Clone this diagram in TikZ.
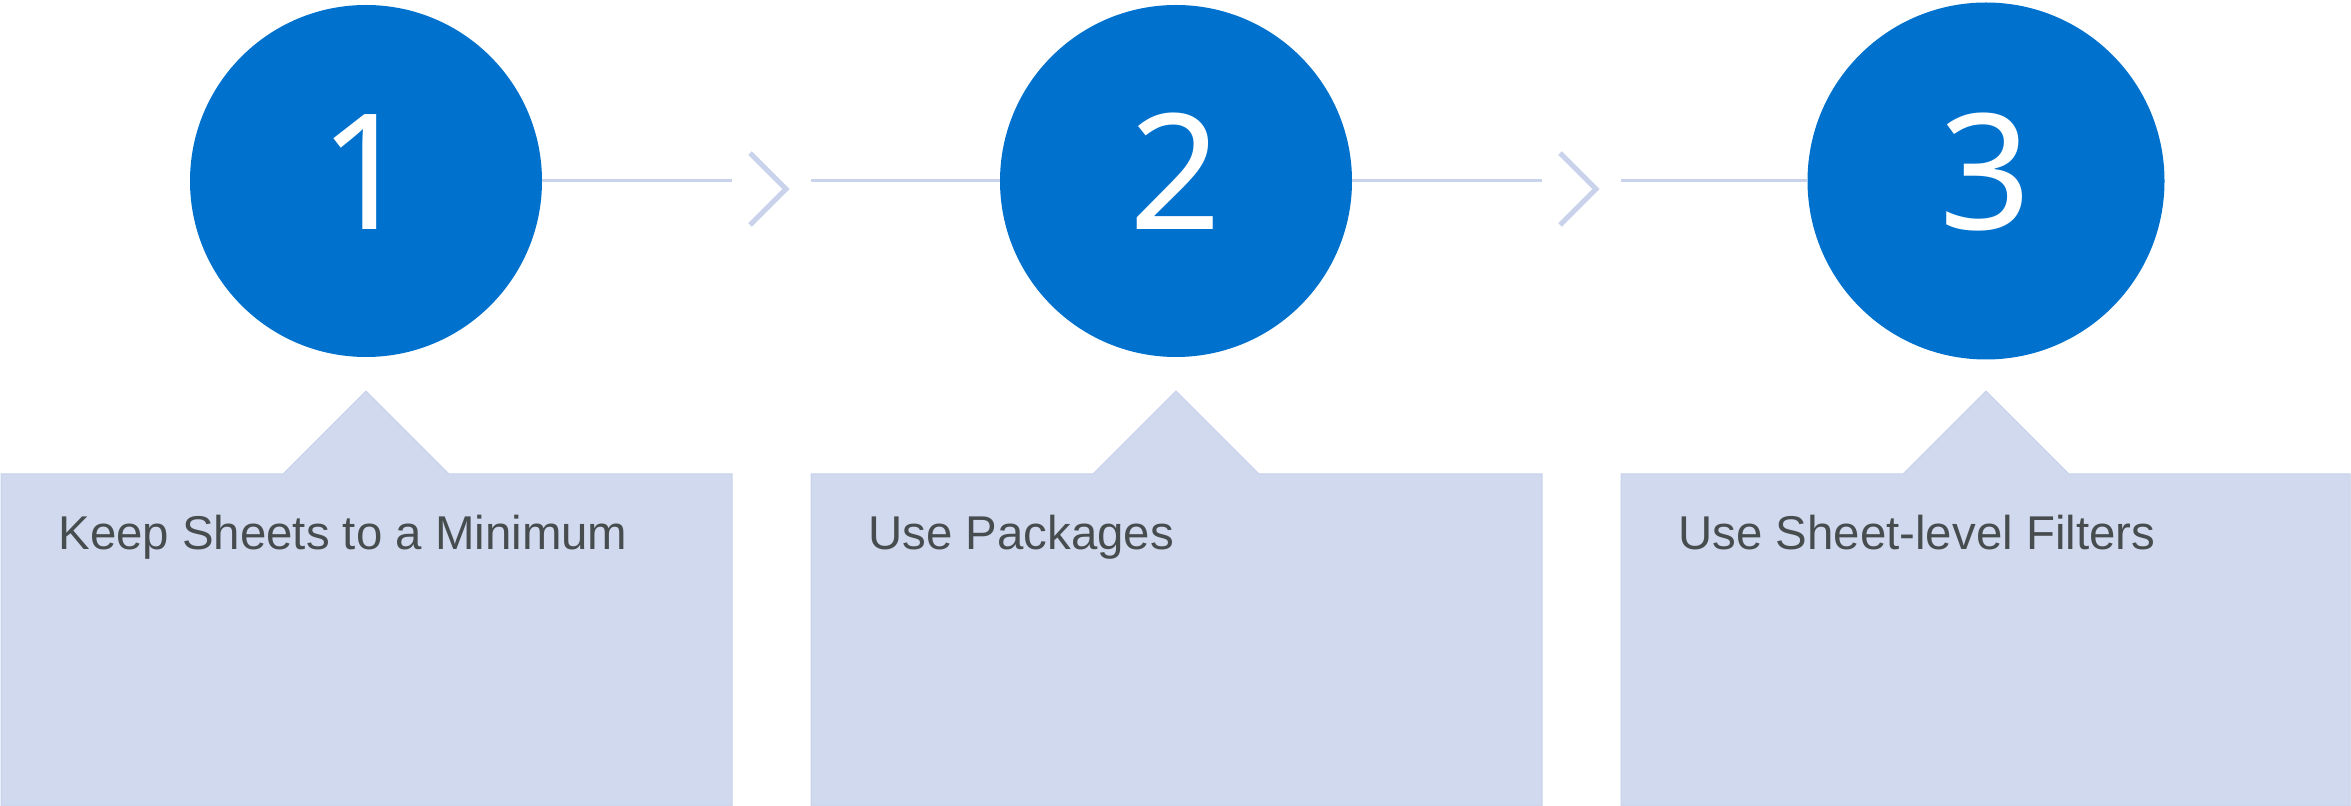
\documentclass[tikz,border=0pt]{standalone}
\usepackage{fontspec}
\setmainfont{Liberation Sans}
\newfontfamily\digitfont{Noto Sans}
\definecolor{stepblue}{HTML}{0072CE}
\definecolor{panelfill}{HTML}{D0D9EE}
\definecolor{paneledge}{HTML}{C6D1EB}
\definecolor{linkcol}{HTML}{C9D3EC}
\definecolor{textgray}{HTML}{474C4E}
\begin{document}
\begin{tikzpicture}[x=0.5pt,y=-0.5pt,
  stepcircle/.style={circle,fill=stepblue,draw=none,inner sep=0pt},
  stepnum/.style={text=white,font=\digitfont\fontsize{80.5pt}{80.5pt}\selectfont,anchor=base,inner sep=0pt},
  panel/.style={fill=panelfill,draw=paneledge,line width=0.5pt},
  paneltext/.style={text=textgray,font=\fontsize{23.7pt}{28pt}\selectfont,anchor=base west,inner sep=0pt},
  link/.style={draw=linkcol,line width=1.5pt},
  chev/.style={draw=linkcol,line width=2.6pt,line cap=butt,line join=miter}]
\useasboundingbox (0,0) rectangle (2351,806);
% panels
\path[panel] (1,474) -- (283,474) -- (366,391) -- (449,474) -- (732,474) -- (732,806) -- (1,806) -- cycle;
\path[panel] (811,474) -- (1093,474) -- (1176,391) -- (1259,474) -- (1542,474) -- (1542,806) -- (811,806) -- cycle;
\path[panel] (1621,474) -- (1903,474) -- (1986,391) -- (2069,474) -- (2350,474) -- (2350,806) -- (1621,806) -- cycle;
\node[paneltext] (t1) at (58,550) {Keep Sheets to a Minimum};
\node[paneltext] (t2) at (868,550) {Use Packages};
\node[paneltext] (t3) at (1678,550) {Use Sheet-level Filters};
% circles
\node[stepcircle,minimum size=352pt*0.5] (c1) at (366,181) {};
\node[stepcircle,minimum size=352pt*0.5] (c2) at (1176,181) {};
\node[stepcircle,minimum size=357pt*0.5] (c3) at (1986,181) {};
\node[stepnum] (n1) at (366,230) {1};
\node[stepnum] (n2) at (1176,230) {2};
\node[stepnum] (n3) at (1986,230) {3};
% connectors
\coordinate (a1) at (732,181);
\coordinate (b1) at (811,181);
\coordinate (a2) at (1542,181);
\coordinate (b2) at (1621,181);
\coordinate (k1t) at (750,153);
\coordinate (k1m) at (786,189);
\coordinate (k1b) at (750,225);
\coordinate (k2t) at (1560,153);
\coordinate (k2m) at (1596,189);
\coordinate (k2b) at (1560,225);
\draw[link] (c1.east) -- (a1);
\draw[link] (b1) -- (c2.west);
\draw[link] (c2.east) -- (a2);
\draw[link] (b2) -- (c3.west);
\draw[chev] (k1t) -- (k1m) -- (k1b);
\draw[chev] (k2t) -- (k2m) -- (k2b);
\end{tikzpicture}
\end{document}
